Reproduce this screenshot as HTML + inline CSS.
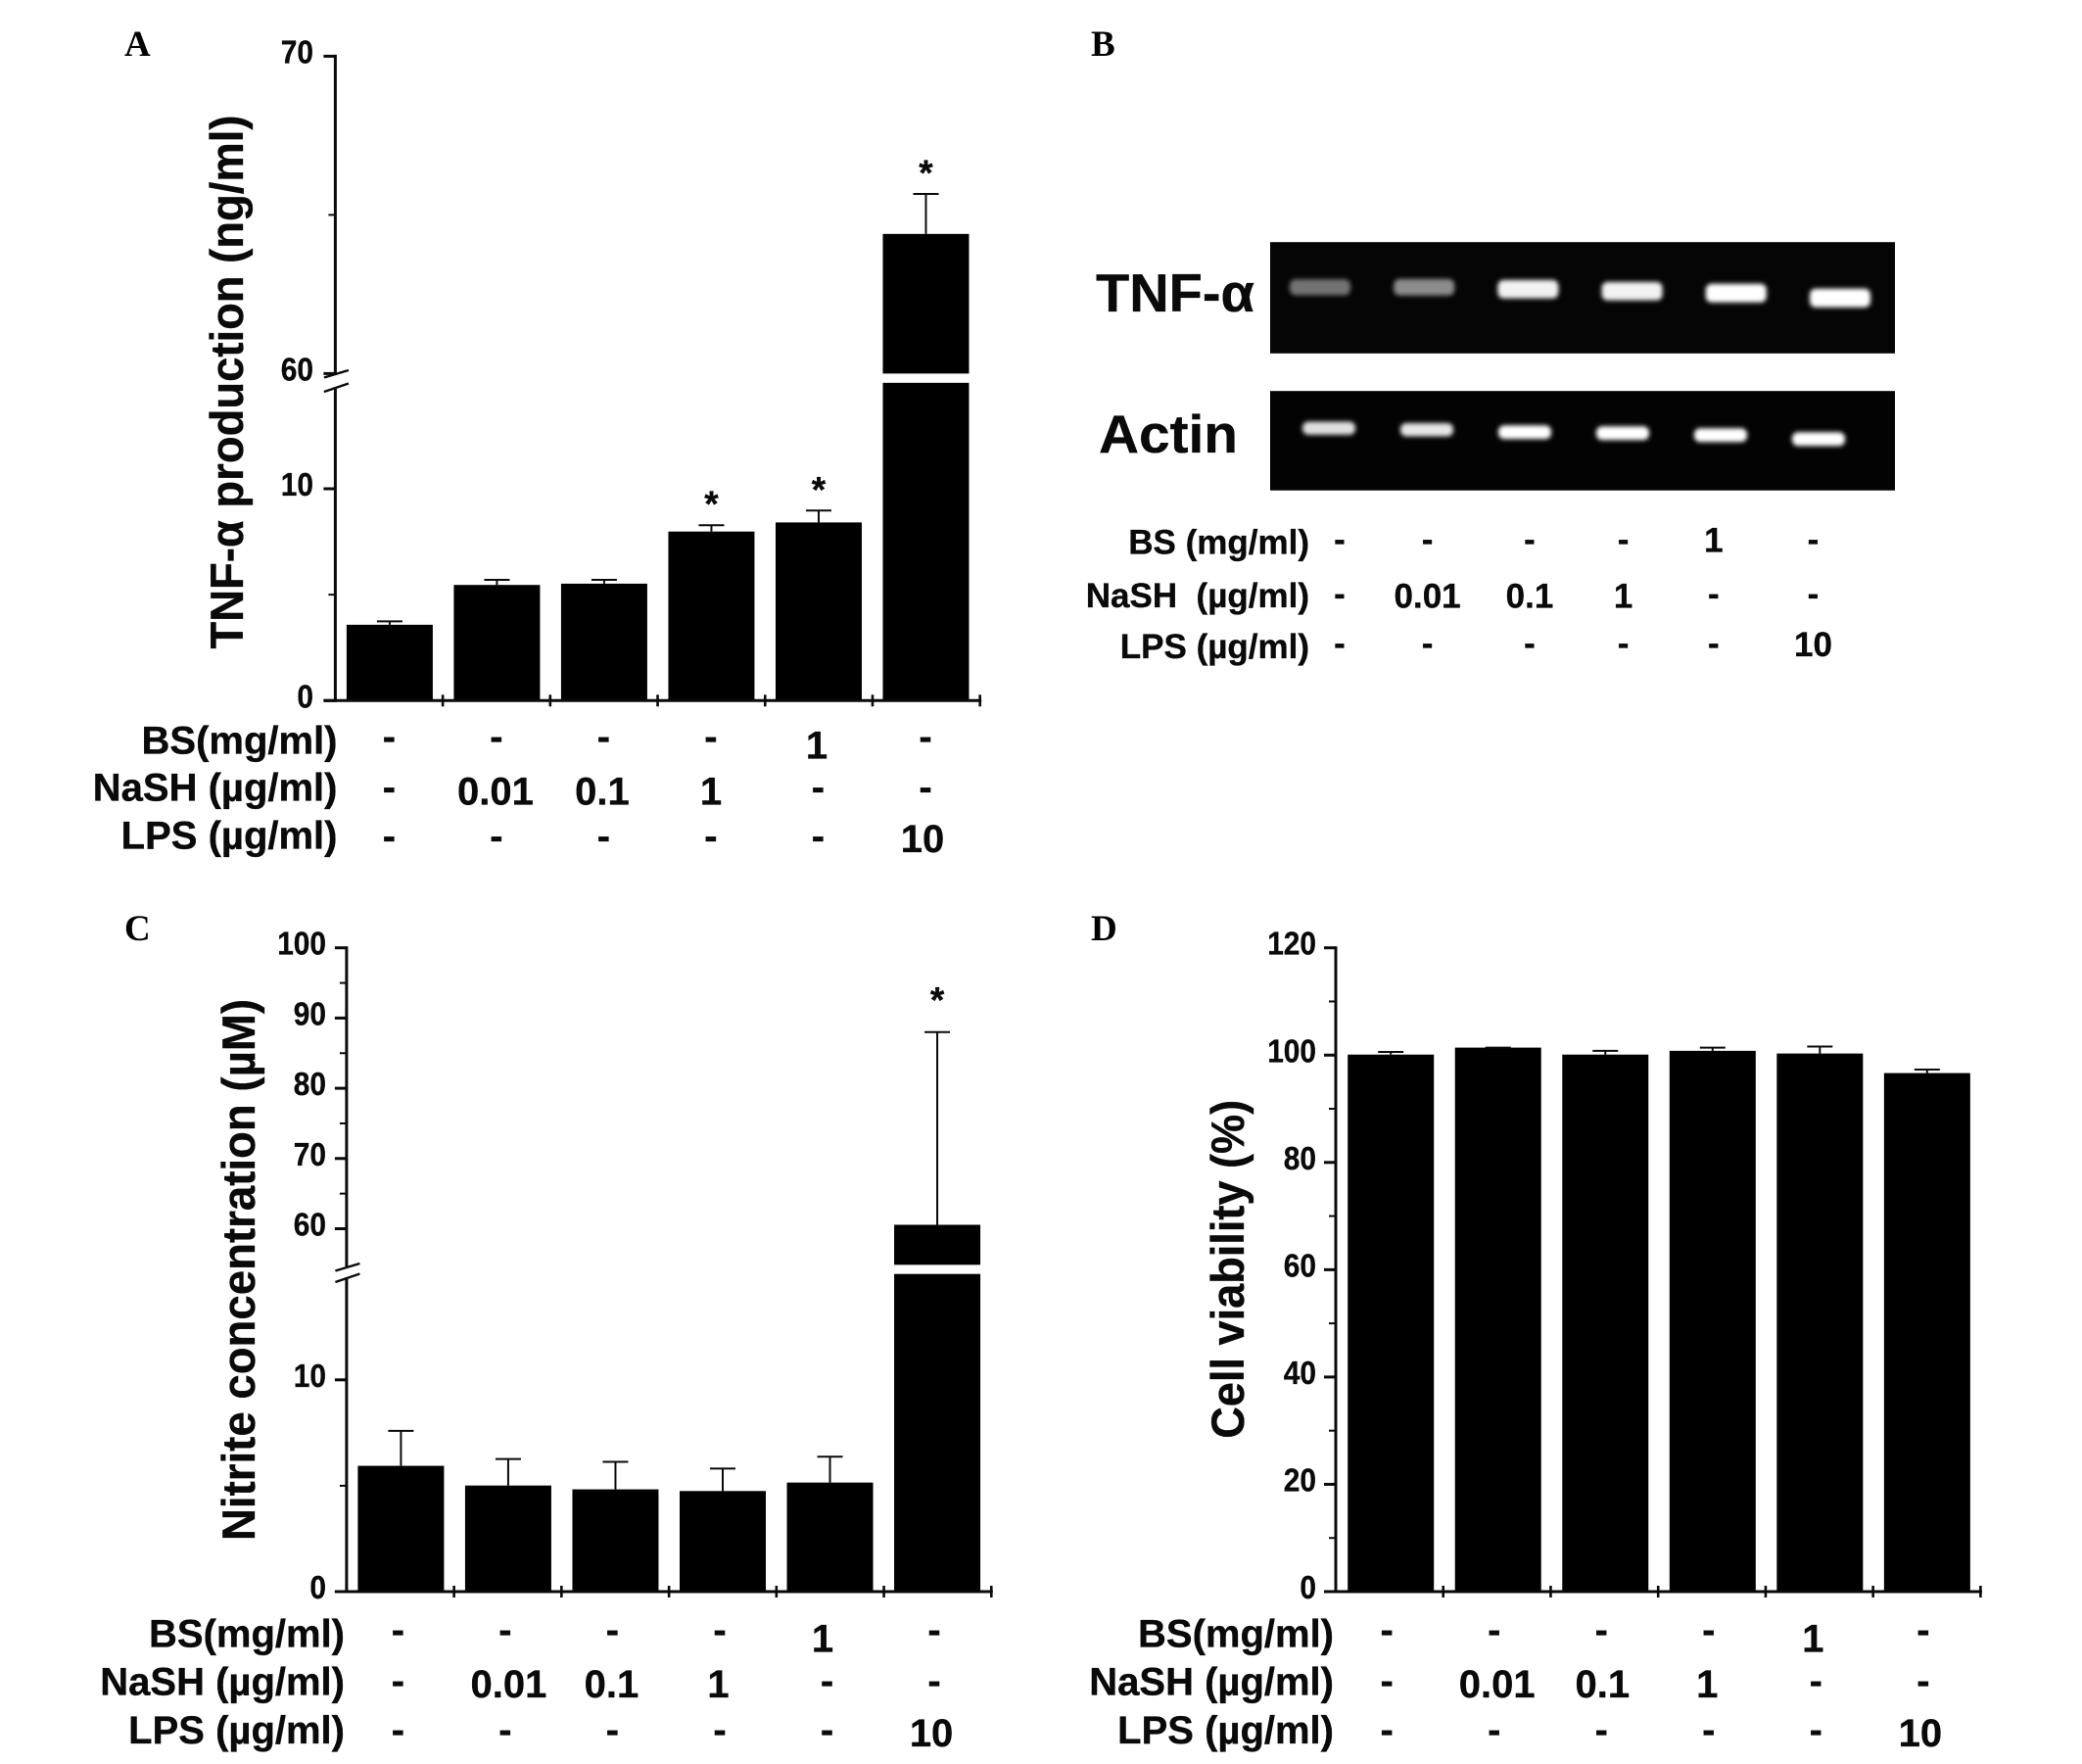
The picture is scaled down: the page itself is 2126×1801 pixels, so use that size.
<!DOCTYPE html>
<html lang="en">
<head>
<meta charset="utf-8">
<title>TNF-α, nitrite and cell viability figure</title>
<style>
html,body{margin:0;padding:0;background:#fff;}
svg{display:block;}
text{font-family:"Liberation Sans",sans-serif;font-weight:700;fill:#0a0a0a;stroke:#0a0a0a;stroke-width:0.35px;}
.letter{font-family:"Liberation Serif",serif;font-size:37px;fill:#000;stroke:none;}
.title{font-size:47px;}
.row{font-size:40px;text-anchor:end;}
.rowb{font-size:35px;text-anchor:end;}
.gel-label{font-size:55px;}
</style>
</head>
<body>
<svg id="fig" xmlns="http://www.w3.org/2000/svg" width="2126" height="1801" viewBox="0 0 2126 1801">
  <defs>
    <filter id="bandBlur" x="-30%" y="-80%" width="160%" height="260%"><feGaussianBlur stdDeviation="2.5"/></filter>
  </defs>
  <rect x="0" y="0" width="2126" height="1801" fill="#fff"/>

  <g id="panel-a">
    <text class="letter" x="127" y="57">A</text>
    <text class="title" text-anchor="middle" textLength="545" lengthAdjust="spacingAndGlyphs" transform="translate(248 390) rotate(-90)">TNF-α production (ng/ml)</text>
    <text class="row" x="344.5" y="769.5">BS(mg/ml)</text>
    <text class="row" x="344.5" y="817.5">NaSH (µg/ml)</text>
    <text class="row" x="344.5" y="866.5">LPS (µg/ml)</text>
  </g>

  <g id="panel-b">
    <text class="letter" x="1114" y="57">B</text>
    <text class="gel-label" x="1119" y="318" textLength="162" lengthAdjust="spacingAndGlyphs">TNF-α</text>
    <text class="gel-label" x="1122" y="462" textLength="142" lengthAdjust="spacingAndGlyphs">Actin</text>
    <rect x="1297" y="247.2" width="638" height="113.6" fill="#050505"/>
    <rect x="1297" y="399.2" width="638" height="101.5" fill="#030303"/>
    <text class="rowb" x="1337" y="565.5">BS (mg/ml)</text>
    <text class="rowb" x="1337" y="620" xml:space="preserve">NaSH  (µg/ml)</text>
    <text class="rowb" x="1337" y="672">LPS (µg/ml)</text>
  </g>

  <g id="panel-c">
    <text class="letter" x="127" y="960">C</text>
    <text class="title" text-anchor="middle" textLength="553" lengthAdjust="spacingAndGlyphs" transform="translate(260 1296.5) rotate(-90)">Nitrite concentration (µM)</text>
    <text class="row" x="352" y="1681.5">BS(mg/ml)</text>
    <text class="row" x="352" y="1730.5">NaSH (µg/ml)</text>
    <text class="row" x="352" y="1780">LPS (µg/ml)</text>
  </g>

  <g id="panel-d">
    <text class="letter" x="1114" y="960">D</text>
    <text class="title" text-anchor="middle" textLength="346" lengthAdjust="spacingAndGlyphs" transform="translate(1270 1295.8) rotate(-90)">Cell viability (%)</text>
    <text class="row" x="1362" y="1681.5">BS(mg/ml)</text>
    <text class="row" x="1362" y="1730.5">NaSH (µg/ml)</text>
    <text class="row" x="1362" y="1780">LPS (µg/ml)</text>
  </g>
</svg>

<script>
// ---- treatment table values (shared by all panels) ----
const bsDoses = ['-', '-', '-', '-', '1', '-'];
const nashDoses = ['-', '0.01', '0.1', '1', '-', '-'];
const lpsDoses = ['-', '-', '-', '-', '-', '10'];

// ---- panel A: TNF-alpha production (ng/ml) ----
const tnfValues = [3.58, 5.46, 5.52, 7.98, 8.41, 64.4];
const tnfErrors = [3.74, 5.70, 5.70, 8.28, 8.97, 65.66];
const tnfStars = [0, 0, 0, 1, 1, 1];
const tnfMajorTicks = [0, 10, 60, 70];
const tnfMinorTicks = [5, 65];

// ---- panel B: gel band intensities (0..1) ----
const tnfBandIntensity = [0.45, 0.55, 0.95, 0.95, 1, 1];
const actinBandIntensity = [0.88, 0.9, 1, 1, 1, 1];

// ---- panel C: nitrite concentration (uM) ----
const nitriteValues = [5.94, 5.01, 4.83, 4.75, 5.15, 60.56];
const nitriteErrors = [7.59, 6.26, 6.13, 5.81, 6.37, 88];
const nitriteStars = [0, 0, 0, 0, 0, 1];
const nitriteMajorTicks = [0, 10, 60, 70, 80, 90, 100];
const nitriteMinorTicks = [5, 65, 75, 85, 95];

// ---- panel D: cell viability (%) ----
const viabilityValues = [100.1, 101.4, 100.1, 100.8, 100.3, 96.65];
const viabilityErrors = [100.6, 101.4, 100.8, 101.4, 101.6, 97.3];
const viabilityStars = [0, 0, 0, 0, 0, 0];
const viabilityMajorTicks = [0, 20, 40, 60, 80, 100, 120];
const viabilityMinorTicks = [10, 30, 50, 70, 90, 110];

const SVG_NS = 'http://www.w3.org/2000/svg';

function make(tag, parent) {
  const node = document.createElementNS(SVG_NS, tag);
  parent.appendChild(node);
  return node;
}
function line(parent, x1, y1, x2, y2, width) {
  const l = make('line', parent);
  l.setAttribute('x1', x1);
  l.setAttribute('y1', y1);
  l.setAttribute('x2', x2);
  l.setAttribute('y2', y2);
  l.setAttribute('stroke', '#0a0a0a');
  l.setAttribute('stroke-width', width);
  return l;
}
function label(parent, x, y, str, size, anchor) {
  const t = make('text', parent);
  t.setAttribute('x', x);
  t.setAttribute('y', y);
  t.setAttribute('font-size', size);
  t.setAttribute('text-anchor', anchor);
  t.textContent = str;
  return t;
}
function box(parent, x, y, w, h) {
  const r = make('rect', parent);
  r.setAttribute('x', x);
  r.setAttribute('y', y);
  r.setAttribute('width', w);
  r.setAttribute('height', h);
  r.setAttribute('fill', '#000');
  return r;
}

// Piecewise y scale: lower segment and, if the axis has a break, an upper segment.
function makeYScale(g) {
  return function (v) {
    if (g.breakLow === null || v <= g.breakLow) {
      return g.y0 + (v - 0) * (g.yRef - g.y0) / g.refValue;
    }
    const base = Math.max(v, g.breakHigh);
    return g.yUpperRef + (base - g.upperRefValue) * (g.yTop - g.yUpperRef) / (g.topValue - g.upperRefValue);
  };
}

function drawPanel(parentId, g, values, errors, stars, majors, minors) {
  const parent = document.getElementById(parentId);
  const y = makeYScale(g);
  const band = (g.xEnd - g.x0) / values.length;
  const xBar = function (i) { return g.x0 + (band - 0.2) * i + g.barInset; };
  const xMid = function (i) { return xBar(i) + g.barWidth / 2; };

  // bars
  values.forEach(function (v, i) {
    if (g.breakLow !== null && v > g.breakHigh) {
      const low = box(parent, xBar(i), y(g.breakLow), g.barWidth, g.y0 - y(g.breakLow));
      
      
      const up = box(parent, xBar(i), y(v), g.barWidth, y(g.breakHigh) - y(v) + g.upperBarExtra);
      
      
    } else {
      const b = box(parent, xBar(i), y(v), g.barWidth, g.y0 - y(v));
      
      
    }
  });

  // error bars
  errors.forEach(function (e, i) {
    const stem = line(parent, xMid(i), y(values[i]), xMid(i), y(e), 2);
    
    
    const cap = line(parent, xMid(i) - 13, y(e), xMid(i) + 13, y(e), 2);
    
    
    if (stars[i]) {
      const s = label(parent, xMid(i), y(e) - g.starGap + 21, '*', 37, 'middle');
      
      
    }
  });

  // y axis
  if (g.breakLow === null) {
    const ax = line(parent, g.x0, g.yTop - 1.5, g.x0, g.y0 + 1.5, 3);
    
    
  } else {
    const axLow = line(parent, g.x0, g.axisGapBottom, g.x0, g.y0 + 1.5, 3);
    
    
    const axUp = line(parent, g.x0, g.yTop - 1.5, g.x0, g.axisGapTop, 3);
    
    
    const s1 = line(parent, g.x0 - 11.5, g.axisGapTop + 4.5, g.x0 + 13.5, g.axisGapTop - 3, 2.4);
    
    
    const s2 = line(parent, g.x0 - 11.5, g.axisGapBottom + 5, g.x0 + 13.5, g.axisGapBottom - 3.5, 2.4);
    
    
  }

  // y ticks
  majors.forEach(function (v) {
    const t = line(parent, g.x0 - 12, y(v), g.x0, y(v), 3);
    
    
    const str = String(v);
    const tl = label(parent, g.labelRight, y(v) + 7, str, 33, 'end');
    tl.setAttribute('textLength', 16.6 * str.length);
    tl.setAttribute('lengthAdjust', 'spacingAndGlyphs');
    
    
  });
  minors.forEach(function (v) {
    const t = line(parent, g.x0 - 7, y(v), g.x0, y(v), 2);
    
    
  });

  // x axis
  const xa = line(parent, g.x0 - 12, g.y0, g.xEnd + 1.5, g.y0, 3);
  
  
  for (let i = 1; i <= values.length; i++) {
    const t = line(parent, g.x0 + band * i, g.y0 - 6, g.x0 + band * i, g.y0 + 6, 2.6);
    
    
  }

  // treatment table
  [bsDoses, nashDoses, lpsDoses].forEach(function (row, r) {
    row.forEach(function (val, i) {
      const isDash = val === '-';
      const ty = isDash ? g.dashCenters[r] + 11 : g.digitBaselines[r];
      const tx = xMid(i) + g.tableShift + (isDash ? 0 : g.digitNudge[i]);
      const cell = label(parent, tx, ty, val, 40, 'middle');
      
      
    });
  });
}

drawPanel('panel-a', {
  x0: 342.4, xEnd: 1000.7, y0: 715.3, yTop: 57.4,
  refValue: 10, yRef: 499, upperRefValue: 60, yUpperRef: 381.4, topValue: 70,
  breakLow: 15, breakHigh: 60, axisGapTop: 381, axisGapBottom: 395, upperBarExtra: 0,
  barInset: 11.5, barWidth: 88, labelRight: 320, starGap: 30, tableShift: -0.5,
  digitNudge: [0, -1, -1.5, 0, -1.5, -3],
  dashCenters: [754.3, 805.9, 855.8], digitBaselines: [774.4, 821.4, 870]
}, tnfValues, tnfErrors, tnfStars, tnfMajorTicks, tnfMinorTicks);

drawPanel('panel-c', {
  x0: 353.9, xEnd: 1012.3, y0: 1625, yTop: 967.7,
  refValue: 10, yRef: 1408.8, upperRefValue: 60, yUpperRef: 1254.5, topValue: 100,
  breakLow: 15, breakHigh: 55, axisGapTop: 1293, axisGapBottom: 1304, upperBarExtra: 1,
  barInset: 11.5, barWidth: 88, labelRight: 333, starGap: 41, tableShift: -3,
  digitNudge: [0, 3.5, -1, -1.5, -4.5, -3],
  dashCenters: [1666.7, 1718.7, 1768.3], digitBaselines: [1686.7, 1732.9, 1783]
}, nitriteValues, nitriteErrors, nitriteStars, nitriteMajorTicks, nitriteMinorTicks);

drawPanel('panel-d', {
  x0: 1364, xEnd: 2022.4, y0: 1625, yTop: 967.7,
  refValue: 120, yRef: 967.7, upperRefValue: 0, yUpperRef: 1625, topValue: 120,
  breakLow: null, breakHigh: null, axisGapTop: 0, axisGapBottom: 0, upperBarExtra: 0,
  barInset: 12.2, barWidth: 88, labelRight: 1344, starGap: 30, tableShift: -4,
  digitNudge: [0, 3, 1, -1.5, -3, -3],
  dashCenters: [1666.7, 1718.7, 1768.3], digitBaselines: [1686.7, 1732.9, 1783]
}, viabilityValues, viabilityErrors, viabilityStars, viabilityMajorTicks, viabilityMinorTicks);

// ---- panel B gel bands ----
function drawBands(intensity, laneStart, lanePitch, gelTop, drift, w, baseH, prefix) {
  const parent = document.getElementById('panel-b');
  intensity.forEach(function (lvl, i) {
    const h = baseH + 5 * lvl;
    const r = make('rect', parent);
    r.setAttribute('x', laneStart + lanePitch * i - w / 2);
    r.setAttribute('y', gelTop + drift[i] - h / 2);
    r.setAttribute('width', w);
    r.setAttribute('height', h);
    r.setAttribute('rx', 6);
    const c = Math.round(255 * lvl);
    r.setAttribute('fill', 'rgb(' + c + ',' + c + ',' + c + ')');
    r.setAttribute('filter', 'url(#bandBlur)');
    
    
  });
}
drawBands(tnfBandIntensity, 1348, 106.2, 247.2, [46, 46, 48, 50, 52, 57], 62, 14, 'tnf');
drawBands(actinBandIntensity, 1357, 100, 399.2, [38, 39.5, 42, 43, 45, 49], 54, 9, 'actin');

// ---- panel B treatment table ----
const bLayoutColumns = [1368, 1457.6, 1562, 1657.6, 1749.8, 1851.5];
const bLayoutDash = [552.4, 608, 658.5];
const bLayoutDigit = [563.3, 620.6, 670];
[bsDoses, nashDoses, lpsDoses].forEach(function (row, r) {
  row.forEach(function (val, i) {
    const isDash = val === '-';
    const ty = isDash ? bLayoutDash[r] + 10 : bLayoutDigit[r];
    const cell = label(document.getElementById('panel-b'), bLayoutColumns[i], ty, val, 35, 'middle');
    
    
  });
});
</script>
</body>
</html>
